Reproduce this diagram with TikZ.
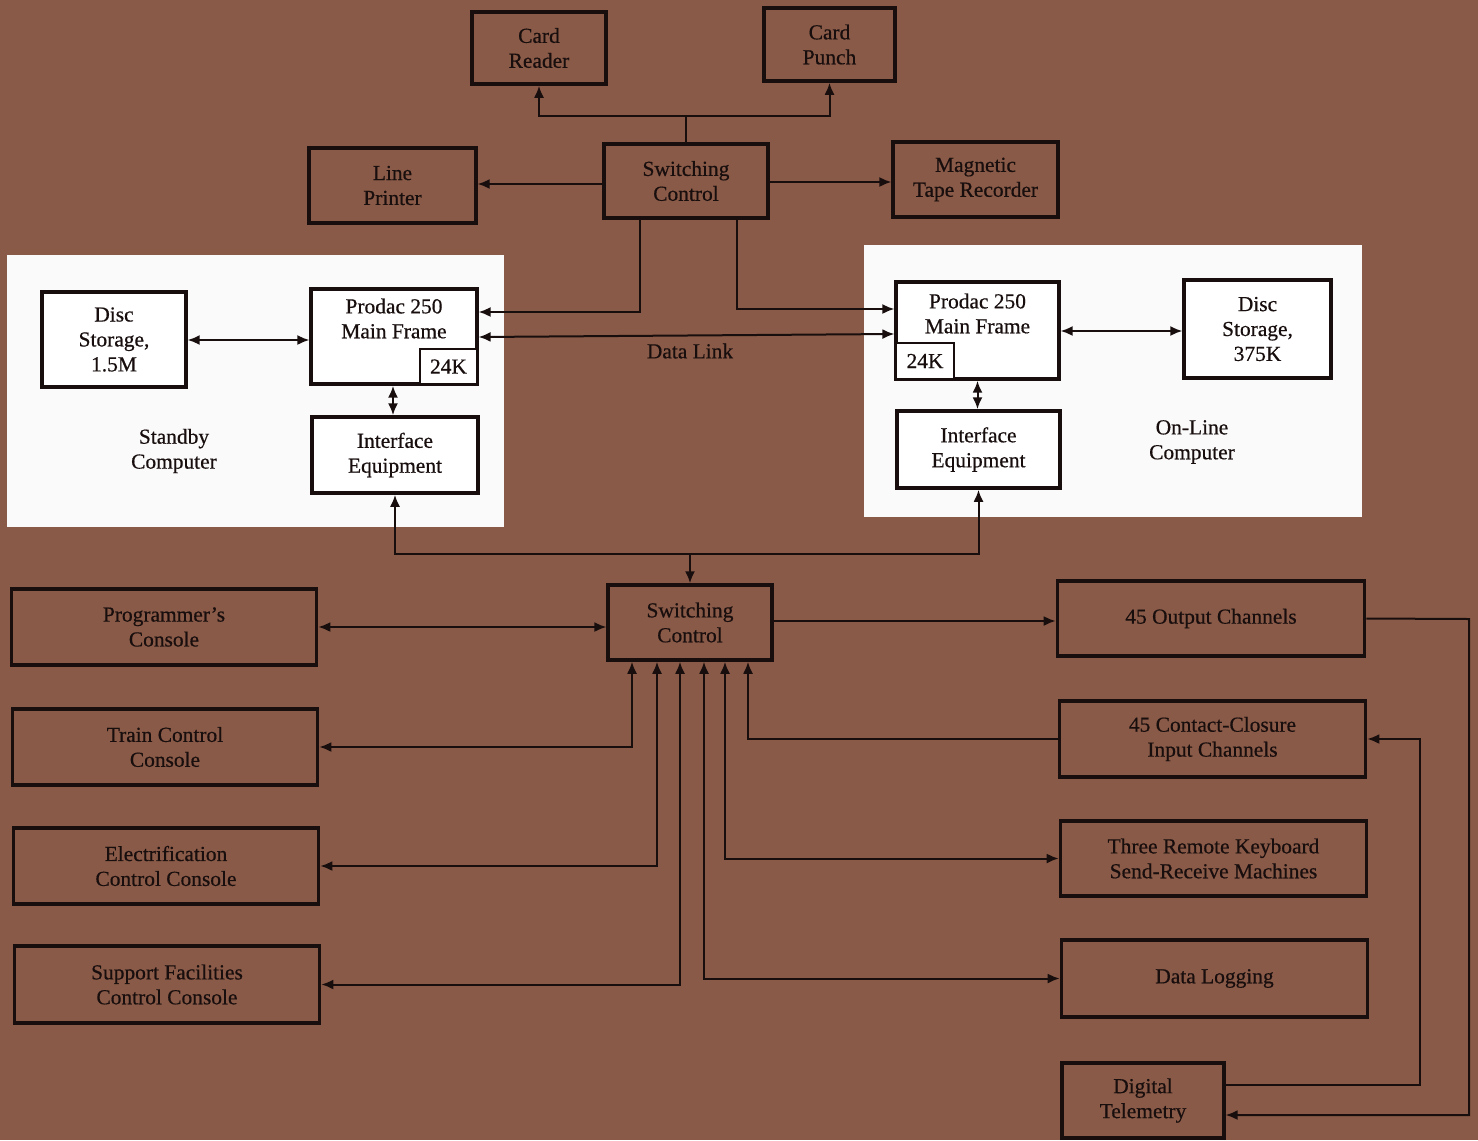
\documentclass[tikz,border=0pt]{standalone}
\usepackage{fontspec}
\setmainfont{Liberation Serif}[FakeBold=0.5]
\usetikzlibrary{arrows.meta}
\definecolor{bg}{RGB}{137,90,71}
\definecolor{ink}{RGB}{24,14,14}
\definecolor{panel}{RGB}{250,250,250}
\begin{document}
\begin{tikzpicture}[x=1bp,y=-1bp,
  box/.style={draw=ink, line width=3.8bp, inner sep=0pt, align=center,
    font=\fontsize{21.5}{25}\selectfont, text=ink},
  wbox/.style={box, fill=white},
  small/.style={draw=ink, line width=2.5bp, inner sep=0pt, fill=white,
    font=\fontsize{21.5}{25}\selectfont, text=ink},
  txt/.style={align=center, inner sep=0pt, font=\fontsize{21.5}{25}\selectfont, text=ink},
  wire/.style={draw=ink, line width=2bp},
  tip/.style={-{Latex[length=12bp,width=10bp]}},
  dtip/.style={{Latex[length=12bp,width=10bp]}-{Latex[length=12bp,width=10bp]}}
]
\fill[bg] (0,0) rectangle (1478,1140);
\useasboundingbox (0,0) rectangle (1478,1140);
% white panels
\fill[panel] (7,255) rectangle (504,527);
\fill[panel] (864,245) rectangle (1362,517);

% top group
\node[box, minimum width=134, minimum height=72] (cr) at (539,48) {Card\\Reader};
\node[box, minimum width=131, minimum height=73] (cp) at (829.5,44.5) {Card\\Punch};
\node[box, minimum width=167, minimum height=75] (lp) at (392.5,185.5) {Line\\Printer};
\node[box, minimum width=164, minimum height=74] (sc1) at (686,181) {Switching\\Control};
\node[box, minimum width=165, minimum height=75] (mt) at (975.5,179.5) {Magnetic\\Tape Recorder};

% standby computer
\node[wbox, minimum width=144, minimum height=95] (dl) at (114,339.5) {Disc\\Storage,\\1.5M};
\node[wbox, minimum width=166, minimum height=95] (pl) at (394,336.5) {};
\node[txt] (plt) at (394,318.5) {Prodac 250\\Main Frame};
\node[small, minimum width=57, minimum height=35] (kl) at (448.5,366.5) {24K};
\node[wbox, minimum width=166, minimum height=76] (il) at (395,455) {Interface\\Equipment};
\node[txt] (sb) at (174,451) {Standby\\Computer};

% on-line computer
\node[wbox, minimum width=163, minimum height=97] (pr) at (977.5,330.5) {};
\node[txt] (prt) at (977.5,313.5) {Prodac 250\\Main Frame};
\node[small, minimum width=58, minimum height=36] (kr) at (925,361) {24K};
\node[wbox, minimum width=147, minimum height=98] (dr) at (1257.5,329) {Disc\\Storage,\\375K};
\node[wbox, minimum width=163, minimum height=77] (ir) at (978.5,449.5) {Interface\\Equipment};
\node[txt] (ol) at (1192,442) {On-Line\\Computer};

\node[txt] (dlk) at (690,351) {Data Link};

% lower group
\node[box, minimum width=164, minimum height=75] (sc2) at (690,622.5) {Switching\\Control};
\node[box, minimum width=306, minimum height=76] (prog) at (164,627) {Programmer's\\Console};
\node[box, minimum width=306, minimum height=76] (train) at (165,747) {Train Control\\Console};
\node[box, minimum width=306, minimum height=76] (elec) at (166,866) {Electrification\\Control Console};
\node[box, minimum width=306, minimum height=77] (supp) at (167,984.5) {Support Facilities\\Control Console};
\node[box, minimum width=308, minimum height=75] (out) at (1211,618.5) {45 Output Channels};
\node[box, minimum width=307, minimum height=76] (cc) at (1212.5,739) {45 Contact-Closure\\Input Channels};
\node[box, minimum width=307, minimum height=75] (kb) at (1213.5,858.5) {Three Remote Keyboard\\Send-Receive Machines};
\node[box, minimum width=307, minimum height=77] (log) at (1214.5,978.5) {Data Logging};
\node[box, minimum width=162, minimum height=75] (dig) at (1143,1100.5) {Digital\\Telemetry};

% connectors: top switching control
\coordinate (j1) at (686,116);
\draw[wire] (sc1.north) -- (j1);
\draw[wire,tip] (j1) -| (cr.south);
\draw[wire,tip] (j1) -| (cp.south);
\draw[wire,tip] (sc1.west |- 0,184) -- (lp.east |- 0,184);
\draw[wire,tip] (sc1.east |- 0,182) -- (mt.west |- 0,182);
\draw[wire,tip] (sc1.south -| 640,0) |- (pl.east |- 0,312);
\draw[wire,tip] (sc1.south -| 737,0) |- (pr.west |- 0,309);
\draw[wire,dtip] (pl.east |- 0,337) -- (pr.west |- 0,334);

% inside panels
\draw[wire,dtip] (dl.east |- 0,340) -- (pl.west |- 0,340);
\draw[wire,dtip] (pl.south -| 393,0) -- (il.north -| 393,0);
\draw[wire,dtip] (pr.east |- 0,331) -- (dr.west |- 0,331);
\draw[wire,dtip] (pr.south) -- (pr.south |- ir.north);

% interfaces to lower switching control
\draw[wire,dtip] (il.south) |- (sc2.north |- 0,554) -| (ir.south);
\draw[wire,tip] (sc2.north |- 0,554) -- (sc2.north);

% lower switching control
\draw[wire,dtip] (prog.east) -- (sc2.west |- prog.east);
\draw[wire,tip] (sc2.east |- 0,621) -- (out.west |- 0,621);
\draw[wire,dtip] (sc2.south -| 632,0) |- (train.east);
\draw[wire,dtip] (sc2.south -| 657,0) |- (elec.east);
\draw[wire,dtip] (sc2.south -| 680,0) |- (supp.east);
\draw[wire,dtip] (sc2.south -| 704,0) |- (log.west);
\draw[wire,dtip] (sc2.south -| 725,0) |- (kb.west);
\draw[wire,tip] (cc.west) -| (sc2.south -| 748,0);

% telemetry loops
\draw[wire,tip] (out.east) -- (1469,619) |- (dig.east |- 0,1115);
\draw[wire,tip] (dig.east |- 0,1085) -- (1420,1085) |- (cc.east);
\end{tikzpicture}
\end{document}
